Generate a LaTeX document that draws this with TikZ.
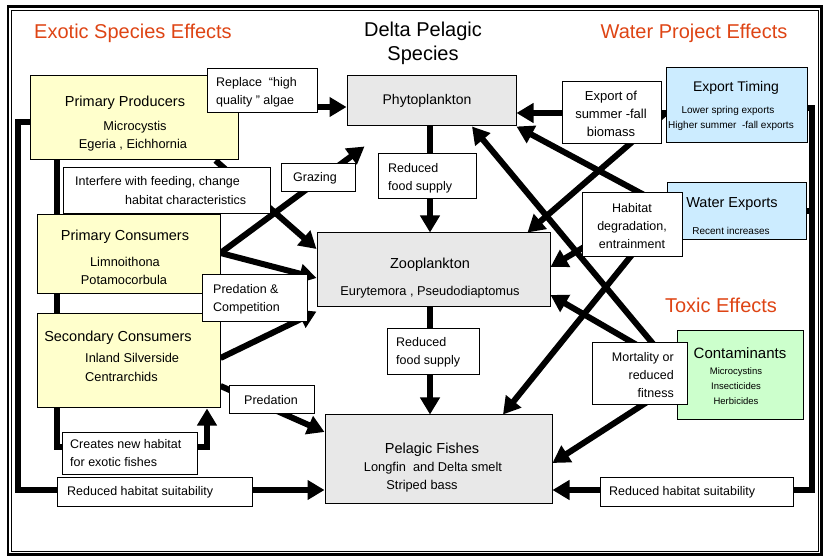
\documentclass[tikz,border=0pt]{standalone}
\usepackage{fontspec}
\setmainfont{Liberation Sans}
\usetikzlibrary{arrows.meta}
\pgfdeclarelayer{bg}
\pgfsetlayers{bg,main}
\definecolor{exo}{RGB}{222,68,20}
\definecolor{ylw}{RGB}{255,255,204}
\definecolor{gry}{RGB}{232,232,232}
\definecolor{blu}{RGB}{204,236,255}
\definecolor{grn}{RGB}{204,255,204}
\newcommand\fz[2]{\fontsize{#1}{#2}\selectfont}
\tikzset{
  sz/.style 2 args={minimum width=#1pt, minimum height=#2pt},
  bx/.style={draw, line width=1pt, inner sep=0pt},
  ybox/.style={bx, fill=ylw},
  gbox/.style={bx, fill=gry},
  bbox/.style={bx, fill=blu},
  cbox/.style={bx, fill=grn},
  lbox/.style={bx, fill=white},
  txt/.style={inner sep=0pt, align=center},
  hdr/.style={txt, font=\fz{20}{24}, text=exo},
  ttl/.style={txt, font=\fz{14.5}{17}},
  subt/.style={txt, font=\fz{12.8}{14}},
  lab/.style={txt, font=\fz{12.5}{18}},
  smt/.style={txt, font=\fz{10}{12}},
  conn/.style={draw, line width=6pt, -{Triangle[length=17pt,width=19pt]}},
  bar/.style={draw, line width=6pt}
}
\begin{document}
\begin{tikzpicture}[x=1pt,y=-1pt]
\useasboundingbox (0,0) rectangle (823,556);
\draw[line width=2.5pt] (8,6.5) rectangle (821.5,554.5);
\draw[line width=0.8pt] (11.5,10) rectangle (818,551);

% headers
\node[hdr] (hEx) at (133,33) {Exotic Species Effects};
\node[hdr,text=black] (hDP) at (423,43) {Delta Pelagic\\Species};
\node[hdr] (hWP) at (694,33) {Water Project Effects};
\node[hdr] (hTx) at (721,305) {Toxic Effects};

% main boxes
\node[ybox,sz={208}{84}] (PP) at (134,118) {};
\node[ybox,sz={183}{79}] (PC) at (128.5,254.5) {};
\node[ybox,sz={183}{94}] (SC) at (128.5,361) {};
\node[gbox,sz={169}{50}] (Phyto) at (431.5,101) {};
\node[gbox,sz={233}{74}] (Zoo) at (433.5,270) {};
\node[gbox,sz={227}{88}] (PF) at (438.5,459) {};
\node[bbox,sz={141}{75}] (ET) at (736.5,105.5) {};
\node[bbox,sz={139}{57}] (WE) at (736.5,211.5) {};
\node[cbox,sz={126}{89}] (Contam) at (740,375.5) {};

% label boxes
\node[lbox,sz={110}{44}] (Rep) at (262,91) {};
\node[lbox,sz={99}{62}] (EO) at (611.5,113) {};
\node[lbox,sz={100}{64}] (Hab) at (632,225) {};
\node[lbox,sz={98}{45}] (R1) at (427,176.5) {};
\node[lbox,sz={74}{28}] (Gr) at (318,178) {};
\node[lbox,sz={207}{46}] (If) at (166.5,191) {};
\node[lbox,sz={105}{47}] (PCo) at (254.5,298.5) {};
\node[lbox,sz={85}{28}] (Pd) at (271.5,400) {};
\node[lbox,sz={135}{42}] (Cre) at (129.5,453) {};
\node[lbox,sz={195}{29}] (RL) at (154.5,491.5) {};
\node[lbox,sz={92}{46}] (R2) at (433,352) {};
\node[lbox,sz={95}{62}] (Mo) at (639.5,374) {};
\node[lbox,sz={193}{29}] (RR) at (696.5,491.5) {};

% texts
\node[ttl] (tPP1) at (125,103) {Primary Producers};
\node[subt] (tPP2) at (135,127) {Microcystis};
\node[subt] (tPP3) at (133,145) {Egeria , Eichhornia};
\node[lab,align=left,anchor=west] (tRep) at (216,92) {Replace \ “high\\quality ” algae};
\node[ttl,font=\fz{14}{17}] (tPh) at (427,101) {Phytoplankton};
\node[lab,font=\fz{13}{18}] (tEO) at (611,114) {Export of\\summer -fall\\biomass};
\node[ttl,font=\fz{14}{17}] (tET1) at (736,88) {Export Timing};
\node[smt] (tET2) at (728,111) {Lower spring exports};
\node[smt] (tET3) at (731,126) {Higher summer \ -fall exports};
\node[ttl] (tWE1) at (732,204) {Water Exports};
\node[smt] (tWE2) at (731,231) {Recent increases};
\node[lab] (tHab) at (632,226) {Habitat\\degradation,\\entrainment};
\node[lab,align=left,anchor=west] (tR1) at (388,178) {Reduced\\food supply};
\node[lab] (tGr) at (315,178) {Grazing};
\node[lab,anchor=west] (tIf1) at (75,182) {Interfere with feeding, change};
\node[lab,anchor=west] (tIf2) at (125,200) {habitat characteristics};
\node[ttl] (tPC1) at (125,237) {Primary Consumers};
\node[subt] (tPC2) at (125,262) {Limnoithona};
\node[subt] (tPC3) at (124,280) {Potamocorbula};
\node[ttl] (tZ1) at (430,265) {Zooplankton};
\node[subt] (tZ2) at (430,292) {Eurytemora , Pseudodiaptomus};
\node[lab,align=left,anchor=west] (tPCo) at (213,299) {Predation \&\\Competition};
\node[ttl] (tSC1) at (118,338) {Secondary Consumers};
\node[subt,anchor=west] (tSC2) at (85,358) {Inland Silverside};
\node[subt,anchor=west] (tSC3) at (85,377) {Centrarchids};
\node[lab] (tPd) at (271,400) {Predation};
\node[lab,align=left,anchor=west] (tCr) at (70,453) {Creates new habitat\\for exotic fishes};
\node[lab,anchor=west] (tRL) at (67,492) {Reduced habitat suitability};
\node[ttl] (tPF1) at (432,450) {Pelagic Fishes};
\node[subt] (tPF2) at (433,468) {Longfin \ and Delta smelt};
\node[subt] (tPF3) at (422,486) {Striped bass};
\node[lab,align=left,anchor=west] (tR2) at (396,352) {Reduced\\food supply};
\node[lab,align=right,anchor=east] (tMo) at (674,375) {Mortality or\\reduced\\fitness};
\node[ttl,font=\fz{15}{18}] (tCo1) at (740,353) {Contaminants};
\node[txt,font=\fz{9.5}{15}] (tCo2) at (736,386) {Microcystins\\Insecticides\\Herbicides};
\node[lab,anchor=west] (tRR) at (609,492) {Reduced habitat suitability};

% connectors
\begin{pgfonlayer}{bg}
\draw[conn] (PP.east |- 0,107) -- (Phyto.west |- 0,107);
\draw[conn] ([xshift=-23pt]PP.south east) -- (Zoo.west |- 0,249);
\draw[conn] (PC.east |- 0,253) -- ([shift={(18pt,-20pt)}]Phyto.south west);
\draw[conn] (PC.east |- 0,253) -- (Zoo.west |- 0,278);
\draw[conn] (SC.east |- 0,358) -- ([yshift=-4pt]Zoo.south west);
\draw[conn] (SC.east |- 0,386) -- (PF.west |- 0,432);
\draw[bar] (PP.south -| 57,0) |- (Cre.west |- 0,447);
\draw[conn] (Cre.east |- 0,447) -| (SC.south -| 207,0);
\draw[conn] (PP.west |- 0,122) -| (18,490) -- (PF.west |- 0,490);
\draw[conn] (ET.east |- 0,108) -| (812,490) -- (PF.east |- 0,490);
\draw[bar] (WE.east) -- (WE.east -| 812,0);
\draw[conn] (ET.west |- 0,113) -- (Phyto.east |- 0,113);
\draw[conn] (ET.west |- 0,113) -- ([xshift=-23pt]Zoo.north east);
\draw[conn] (WE.west |- 0,207) -- (Phyto.south east);
\draw[conn] (WE.west |- 0,198) -- (Zoo.east |- 0,267);
\draw[conn] (WE.west |- 0,212) -- (PF.north -| 503,0);
\draw[conn] (Contam.west |- 0,372) -- (Phyto.south -| 472,0);
\draw[conn] (Contam.west |- 0,368) -- (Zoo.east |- 0,295);
\draw[conn] (Contam.west |- 0,383) -- (PF.east |- 0,463);
\draw[conn] (Phyto.south -| 430,0) -- (Zoo.north -| 430,0);
\draw[conn] (Zoo.south -| 430,0) -- (PF.north -| 430,0);
\end{pgfonlayer}
\end{tikzpicture}
\end{document}
